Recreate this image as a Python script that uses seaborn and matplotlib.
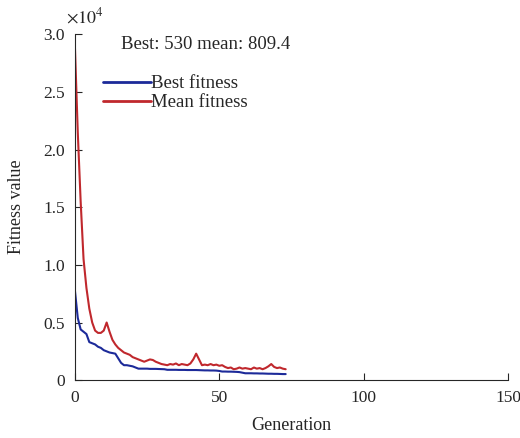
import matplotlib.pyplot as plt
import matplotlib.ticker as mticker
import seaborn as sns
import pandas as pd
import numpy as np

best_fitness = [7800, 5400, 4400, 4200, 4000, 3300, 3200, 3100, 2900, 2800,
                2600, 2500, 2400, 2350, 2300, 1900, 1500, 1300, 1300, 1250,
                1200, 1100, 1000, 1000, 1000, 1000, 980, 980, 980, 970,
                960, 950, 900, 900, 900, 900, 890, 890, 890, 880,
                880, 880, 880, 870, 860, 850, 850, 840, 840, 830,
                800, 750, 750, 740, 740, 730, 720, 700, 650, 600,
                600, 600, 590, 590, 580, 580, 570, 560, 560, 550,
                550, 540, 530, 530]

mean_fitness = [29000, 21500, 15500, 10500, 8000, 6200, 5000, 4300, 4100, 4100,
                4300, 5000, 4200, 3500, 3100, 2800, 2600, 2400, 2300, 2200,
                2000, 1900, 1800, 1700, 1600, 1700, 1800, 1750, 1600, 1500,
                1400, 1350, 1300, 1400, 1350, 1450, 1300, 1400, 1350, 1300,
                1450, 1800, 2300, 1800, 1300, 1350, 1300, 1400, 1300, 1350,
                1250, 1300, 1150, 1050, 1100, 950, 1000, 1100, 1000, 1050,
                1000, 950, 1100, 1000, 1050, 950, 1050, 1200, 1400, 1150,
                1050, 1100, 1000, 950]

generations = list(range(len(best_fitness)))

df = pd.DataFrame({
    "Generation": generations + generations,
    "Fitness": best_fitness + mean_fitness,
    "Series": ["Best fitness"] * len(generations) + ["Mean fitness"] * len(generations),
})

sns.set_style("ticks")
plt.rcParams['font.family'] = ['Liberation Serif', 'DejaVu Serif']
plt.rcParams['mathtext.fontset'] = 'stix'

fig = plt.figure(figsize=(5.2, 4.38), dpi=100)
ax = fig.add_axes([0.144, 0.132, 0.833, 0.790])

sns.lineplot(data=df, x="Generation", y="Fitness", hue="Series",
             palette={"Best fitness": "#1c2a99", "Mean fitness": "#c0282d"},
             linewidth=1.5, ax=ax)

ax.set_xlim(0, 150)
ax.set_ylim(0, 30000)
ax.set_xticks([0, 50, 100, 150])
ax.set_yticks(np.arange(0, 30001, 5000))
ax.yaxis.set_major_formatter(mticker.FuncFormatter(
    lambda v, p: "0" if v == 0 else f"{v / 1e4:.1f}"))
ax.tick_params(direction="in", labelsize=12.5, length=5, pad=7)
ax.spines["top"].set_visible(False)
ax.spines["right"].set_visible(False)

ax.set_xlabel("Generation", fontsize=13, labelpad=8)
ax.set_ylabel("Fitness value", fontsize=13)
ax.yaxis.set_label_coords(-0.115, 0.5)

ax.text(-0.02, 1.02, r"$\times10^4$", transform=ax.transAxes, fontsize=13,
        ha="left", va="bottom")
ax.text(0.106, 0.97, "Best: 530 mean: 809.4", transform=ax.transAxes,
        fontsize=13.5, ha="left", va="center")

leg = ax.legend(loc="upper left", bbox_to_anchor=(0.025, 0.93), frameon=False,
                fontsize=13.5, handlelength=2.6, handletextpad=0.0,
                labelspacing=0.1)
for line in leg.get_lines():
    line.set_linewidth(2)

fig.savefig("out.png", dpi=100)
